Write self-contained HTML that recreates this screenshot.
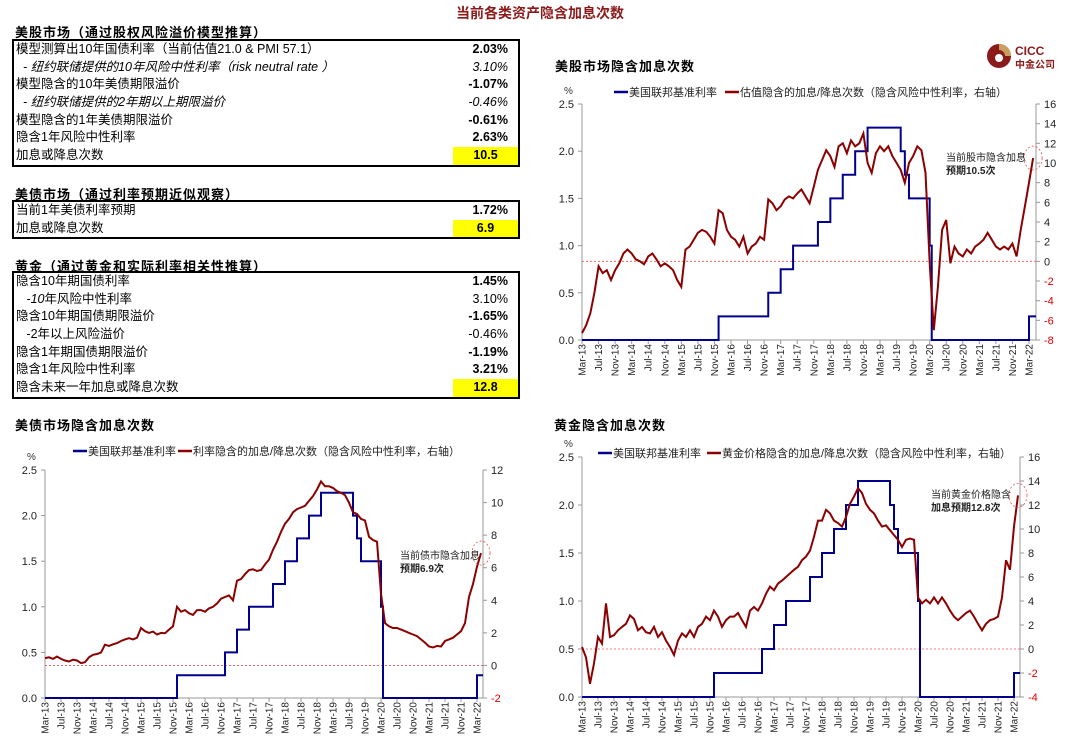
<!DOCTYPE html>
<html><head><meta charset="utf-8">
<style>
body{margin:0;background:#fff;width:1080px;height:752px;overflow:hidden;position:relative;font-family:"Liberation Sans","Noto Sans CJK SC",sans-serif;color:#000}
.t{position:absolute;white-space:nowrap}
.hdr{font-size:13px;font-weight:bold;letter-spacing:1px}
.box{position:absolute;left:12px;width:504px;border:2px solid #000}
.row{position:relative;height:17.7px;font-size:12.5px;line-height:17.7px}
.row .l{position:absolute;left:2px}
.row .v{position:absolute;right:10px}
.row .y{position:absolute;right:0;width:65px;height:17.7px;background:#ffff00;text-align:center;font-weight:bold}
.b{font-weight:bold}
.i{font-style:italic}
</style></head><body>
<div class="t" style="left:0;width:1080px;text-align:center;top:3px;font-size:14px;font-weight:bold;color:#8b1a1a">当前各类资产隐含加息次数</div>

<div class="t hdr" style="left:15px;top:22px">美股市场（通过股权风险溢价模型推算）</div>
<div class="box" style="top:39px">
<div class="row"><span class="l">模型测算出10年国债利率（当前估值21.0 &amp; PMI 57.1）</span><span class="v b">2.03%</span></div>
<div class="row i"><span class="l">&nbsp;&nbsp;- 纽约联储提供的10年风险中性利率（risk neutral rate ）</span><span class="v">3.10%</span></div>
<div class="row"><span class="l">模型隐含的10年美债期限溢价</span><span class="v b">-1.07%</span></div>
<div class="row i"><span class="l">&nbsp;&nbsp;- 纽约联储提供的2年期以上期限溢价</span><span class="v">-0.46%</span></div>
<div class="row"><span class="l">模型隐含的1年美债期限溢价</span><span class="v b">-0.61%</span></div>
<div class="row"><span class="l">隐含1年风险中性利率</span><span class="v b">2.63%</span></div>
<div class="row"><span class="l">加息或降息次数</span><span class="y">10.5</span></div>
</div>

<div class="t hdr" style="left:15px;top:184px">美债市场（通过利率预期近似观察）</div>
<div class="box" style="top:200px">
<div class="row"><span class="l">当前1年美债利率预期</span><span class="v b">1.72%</span></div>
<div class="row"><span class="l">加息或降息次数</span><span class="y">6.9</span></div>
</div>

<div class="t hdr" style="left:15px;top:256px">黄金（通过黄金和实际利率相关性推算）</div>
<div class="box" style="top:271px">
<div class="row"><span class="l">隐含10年期国债利率</span><span class="v b">1.45%</span></div>
<div class="row"><span class="l">&nbsp;&nbsp;&nbsp;<i>-10</i>年风险中性利率</span><span class="v">3.10%</span></div>
<div class="row"><span class="l">隐含10年期国债期限溢价</span><span class="v b">-1.65%</span></div>
<div class="row"><span class="l">&nbsp;&nbsp;&nbsp;-2年以上风险溢价</span><span class="v">-0.46%</span></div>
<div class="row"><span class="l">隐含1年期国债期限溢价</span><span class="v b">-1.19%</span></div>
<div class="row"><span class="l">隐含1年风险中性利率</span><span class="v b">3.21%</span></div>
<div class="row"><span class="l">隐含未来一年加息或降息次数</span><span class="y">12.8</span></div>
</div>

<div style="position:absolute;left:985px;top:40px;width:100px;height:32px">
<svg width="100" height="32">
<circle cx="14" cy="16" r="12" fill="#8b1a1a"/><path d="M14 4 A12 12 0 0 1 26 16 L20 16 A6 6 0 0 0 14 10Z" fill="#c8a060"/><circle cx="14" cy="18" r="4" fill="#fff"/>
<text x="30" y="15" font-size="12" font-weight="bold" fill="#8b1a1a" font-family="Liberation Sans">CICC</text>
<text x="30" y="28" font-size="10" font-weight="bold" fill="#8b1a1a" font-family="Liberation Sans,Noto Sans CJK SC,sans-serif">中金公司</text>
</svg></div>

<svg id="charts" width="1080" height="752" style="position:absolute;left:0;top:0"></svg>

<script>
const xLabels=["Mar-13","Jul-13","Nov-13","Mar-14","Jul-14","Nov-14","Mar-15","Jul-15","Nov-15","Mar-16","Jul-16","Nov-16","Mar-17","Jul-17","Nov-17","Mar-18","Jul-18","Nov-18","Mar-19","Jul-19","Nov-19","Mar-20","Jul-20","Nov-20","Mar-21","Jul-21","Nov-21","Mar-22"];
const fedMonths=[0,33,45,48,51,57,60,63,66,69,77,78,79,84,84.5,108];
const fedRates=[0,0.25,0.5,0.75,1,1.25,1.5,1.75,2,2.25,2,1.75,1.5,1,0,0.25];
const equityHikes=[-7.3,-6.5,-5.3,-3.2,-0.5,-1.2,-0.9,-1.9,-0.9,-0.2,0.8,1.2,
0.8,0.2,0,-0.3,0.5,0.8,0.2,-0.5,-0.2,-0.5,-0.9,-1.9,
-2.6,1.2,1.5,2.2,2.9,3.2,3.0,2.5,1.8,5.2,4.9,3.2,
2.5,2.2,1.5,2.5,0.8,1.5,1.8,2.5,2.2,6.3,5.9,5.2,
5.6,6.3,6.6,6.4,6.9,7.3,6.6,5.9,7.6,9.3,10.3,11.3,
10.7,9.6,11.7,12.0,11.0,12.3,11.7,12.0,13.0,10.0,9.0,11.0,
11.7,11.2,11.7,10.7,10.0,9.3,8.0,10.0,10.7,11.7,11.3,9.0,
-0.2,-7.0,-2.6,3.2,4.2,-0.2,1.5,0.8,0.5,1.2,0.8,1.5,
1.8,2.2,2.9,2.2,1.5,1.2,1.5,1.2,1.8,0.5,3.2,5.6,
8.0,10.5];
const bondHikes=[0.45,0.5,0.4,0.55,0.4,0.3,0.24,0.35,0.3,0.14,0.2,0.5,
0.65,0.7,0.8,1.27,1.2,1.3,1.37,1.5,1.6,1.67,1.6,1.7,
2.3,2.1,2.0,2.08,1.9,2.0,1.98,2.2,2.4,
3.6,3.3,3.4,3.2,3.1,3.4,3.4,3.3,3.5,3.6,3.8,4.1,4.2,4.3,4.0,
5.2,5.3,5.6,5.86,5.9,5.8,5.86,6.2,6.5,7.1,7.6,8.2,
8.7,9.0,9.4,9.6,9.7,9.8,10.1,10.4,10.8,11.3,11.0,11.0,
10.9,10.7,10.6,10.45,10.0,9.4,9.3,9.0,8.9,7.9,7.7,7.6,
4.4,2.6,2.4,2.3,2.3,2.2,2.1,2.0,1.9,1.8,1.6,1.4,
1.16,1.1,1.2,1.16,1.5,1.6,1.7,1.9,2.1,2.6,4.2,5.0,
6.06,6.9];
const goldHikes=[0.17,-0.7,-2.9,-1.2,1.0,0.45,3.8,1.0,1.15,1.56,1.84,2.1,
2.8,2.5,1.56,1.84,1.4,1.3,1.84,1.0,1.4,0.7,0.17,-0.5,
0.7,1.3,1.0,1.56,1.0,1.84,2.1,2.7,2.4,3.2,2.7,1.84,
2.4,2.7,2.7,3.0,2.4,1.84,3.2,3.5,3.2,3.8,4.6,5.2,
4.9,5.45,5.7,6.0,6.3,6.6,6.85,7.4,7.7,8.2,9.35,10.7,
10.7,11.6,11.3,10.7,10.5,10.2,11.0,12.1,12.7,13.4,13.0,12.1,
11.6,11.3,10.7,10.2,10.3,9.9,9.5,9.1,8.5,9.1,9.2,9.1,
4.3,3.8,4.1,3.8,4.3,3.8,4.3,3.8,3.2,2.7,2.4,2.7,
3.0,3.2,2.7,2.1,1.56,2.1,2.4,2.5,2.7,4.3,7.4,6.6,
10.2,12.8];
const leftTicks=[0,0.5,1,1.5,2,2.5];
const eqRightTicks=[-8,-6,-4,-2,0,2,4,6,8,10,12,14,16];
const bondRightTicks=[-2,0,2,4,6,8,10,12];
const goldRightTicks=[-4,-2,0,2,4,6,8,10,12,14,16];

const NS="http://www.w3.org/2000/svg";
const root=document.getElementById('charts');
const FONT='"Liberation Sans","Noto Sans CJK SC",sans-serif';
function mk(tag,attrs,parent){const e=document.createElementNS(NS,tag);for(const k in attrs)e.setAttribute(k,attrs[k]);(parent||root).appendChild(e);return e;}
function txt(s,attrs,parent){const e=mk('text',Object.assign({'font-family':FONT},attrs),parent);e.textContent=s;return e;}

function chart(c){
  const g=mk('g',{});
  
  
  const L=c.l,R=c.r,T=c.t,B=c.b;
  const xs=m=>L+m*(c.mar22-L)/108;
  const yl=v=>B-(v/2.5)*(B-T);
  const yr=v=>B-(v-c.rmin)/(c.rmax-c.rmin)*(B-T);
  const t=txt(c.title,{x:c.titleX,y:c.titleY,'font-size':13,'font-weight':'bold','letter-spacing':1},g);
  
  
  txt('%',{x:L-18,y:T-10,'font-size':10,fill:'#333'},g);
  // axes
  mk('line',{x1:L,y1:T,x2:L,y2:B,stroke:'#999','stroke-width':1},g);
  mk('line',{x1:R,y1:T,x2:R,y2:B,stroke:'#999','stroke-width':1},g);
  mk('line',{x1:L,y1:B,x2:R,y2:B,stroke:'#999','stroke-width':1},g);
  leftTicks.forEach(v=>{
    mk('line',{x1:L-4,y1:yl(v),x2:L,y2:yl(v),stroke:'#999'},g);
    const e=txt(v.toFixed(1),{x:L-8,y:yl(v)+4,'font-size':11,'text-anchor':'end',fill:'#222'},g);
    
    
  });
  c.rticks.forEach(v=>{
    mk('line',{x1:R,y1:yr(v),x2:R+4,y2:yr(v),stroke:'#999'},g);
    const e=txt(String(v),{x:R+8,y:yr(v)+4,'font-size':11,fill:v<0?'#e00000':'#222'},g);
    
    
  });
  xLabels.forEach((s,i)=>{
    const x=xs(i*4);
    mk('line',{x1:x,y1:B,x2:x,y2:B+4,stroke:'#999'},g);
    const e=txt(s,{x:0,y:0,'font-size':10,'text-anchor':'end',fill:'#222',transform:`translate(${x+3.5},${B+4}) rotate(-90)`},g);
    
    
  });
  // zero dashed line
  mk('line',{x1:L,y1:yr(0),x2:R,y2:yr(0),stroke:'#f05050','stroke-width':0.8,'stroke-dasharray':'2,2'},g);
  // fed step
  let d='';
  fedMonths.forEach((m,i)=>{
    const x=xs(m),y=yl(fedRates[i]);
    if(i===0)d+=`M${x},${y}`;else d+=`H${x}V${y}`;
  });
  d+=`H${R}`;
  const fp=mk('path',{d:d,fill:'none',stroke:'#00008b','stroke-width':2},g);
  
  
  // red series
  const pts=c.data.map((v,i)=>`${xs(i).toFixed(1)},${yr(v).toFixed(1)}`).join(' ');
  const rp=mk('polyline',{points:pts,fill:'none',stroke:'#8b0000','stroke-width':2},g);
  
  
  // legend
  const lg=mk('g',{},g);
  
  
  mk('line',{x1:c.lgx,y1:c.lgy,x2:c.lgx+14,y2:c.lgy,stroke:'#00008b','stroke-width':2.5},lg);
  txt('美国联邦基准利率',{x:c.lgx+15,y:c.lgy+4,'font-size':11,fill:'#222'},lg);
  mk('line',{x1:c.lg2x,y1:c.lgy,x2:c.lg2x+14,y2:c.lgy,stroke:'#8b0000','stroke-width':2.5},lg);
  txt(c.legend2,{x:c.lg2x+15,y:c.lgy+4,'font-size':11,fill:'#222'},lg);
  // annotation
  const last=c.data.length-1;
  const ax=xs(last),ay=yr(c.data[last]);
  mk('ellipse',{cx:ax,cy:ay,rx:9,ry:12,fill:'none',stroke:'#f05050','stroke-width':0.8,'stroke-dasharray':'2,2'},g);
  const a1=txt(c.ann1,{x:c.annX,y:c.annY,'font-size':10,fill:'#222'},g);
  
  
  txt(c.ann2,{x:c.annX,y:c.annY+13,'font-size':10,'font-weight':'bold',fill:'#222'},g);
}

chart({name:'equity-chart',title:'美股市场隐含加息次数',titleX:555,titleY:71,l:582,r:1036,t:104,b:340,mar22:1029,rmin:-8,rmax:16,rticks:eqRightTicks,data:equityHikes,lgx:614,lg2x:725,lgy:92,legend2:'估值隐含的加息/降息次数（隐含风险中性利率，右轴）',ann1:'当前股市隐含加息',ann2:'预期10.5次',annX:946,annY:161});
chart({name:'bond-chart',title:'美债市场隐含加息次数',titleX:15,titleY:430,l:45,r:483,t:470,b:698,mar22:477,rmin:-2,rmax:12,rticks:bondRightTicks,data:bondHikes,lgx:73,lg2x:178,lgy:451,legend2:'利率隐含的加息/降息次数（隐含风险中性利率，右轴）',ann1:'当前债市隐含加息',ann2:'预期6.9次',annX:400,annY:559});
chart({name:'gold-chart',title:'黄金隐含加息次数',titleX:554,titleY:430,l:582,r:1020,t:457,b:697,mar22:1014,rmin:-4,rmax:16,rticks:goldRightTicks,data:goldHikes,lgx:598,lg2x:707,lgy:453,legend2:'黄金价格隐含的加息/降息次数（隐含风险中性利率，右轴）',ann1:'当前黄金价格隐含',ann2:'加息预期12.8次',annX:931,annY:498});
</script>
</body></html>
